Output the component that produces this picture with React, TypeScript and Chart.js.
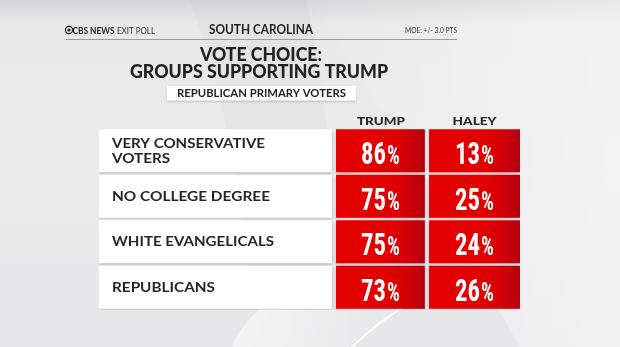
import React, { useEffect, useRef } from "react";
import { Chart, registerables } from "chart.js";

Chart.register(...registerables);

// ---- data ----
const GROUP_KEYS = ["Very conservative voters", "No college degree", "White evangelicals", "Republicans"];
const GROUP_LINES = [["VERY CONSERVATIVE", "VOTERS"], ["NO COLLEGE DEGREE"], ["WHITE EVANGELICALS"], ["REPUBLICANS"]];
const CANDIDATES = ["TRUMP", "HALEY"];
const TRUMP = [86, 75, 75, 73];
const HALEY = [13, 25, 24, 26];

const STATE = "SOUTH CAROLINA";
const TITLE_LINES = ["VOTE CHOICE:", "GROUPS SUPPORTING TRUMP"];
const SUBTITLE = "REPUBLICAN PRIMARY VOTERS";
const MOE = "MOE: +/- 3.0 PTS";

// ---- layout (column spans in x-scale units, 0..100) ----
const COL_LABEL: [number, number] = [0, 55.3];
const COL_A: [number, number] = [56.3, 77.4];
const COL_B: [number, number] = [78.4, 100];

const HEAD = '"Lato", "Open Sans", "DejaVu Sans", sans-serif';
const COND = '"Roboto Condensed", "DejaVu Sans Condensed", "Roboto", sans-serif';

function fitText(
  ctx: CanvasRenderingContext2D,
  s: string,
  x: number,
  y: number,
  font: string,
  color: string,
  align: "left" | "center" | "right",
  targetW?: number
) {
  ctx.save();
  ctx.font = font;
  ctx.fillStyle = color;
  ctx.textBaseline = "middle";
  ctx.textAlign = "left";
  const w = ctx.measureText(s).width;
  const sx = targetW ? targetW / w : 1;
  const dw = w * sx;
  let left = x;
  if (align === "center") left = x - dw / 2;
  else if (align === "right") left = x - dw;
  ctx.translate(left, y);
  ctx.scale(sx, 1);
  ctx.fillText(s, 0, 0);
  ctx.restore();
  return dw;
}

function redGradient(chart: any, span: [number, number]) {
  const xs = chart.scales && chart.scales.x;
  if (!xs || !chart.chartArea) return "#e10000";
  const x0 = xs.getPixelForValue(span[0]);
  const x1 = xs.getPixelForValue(span[1]);
  const g = chart.ctx.createLinearGradient(x0, 0, x1, 0);
  g.addColorStop(0, "#e40000");
  g.addColorStop(0.62, "#e00002");
  g.addColorStop(0.82, "#cf0008");
  g.addColorStop(1, "#b3000f");
  return g;
}

const backgroundPlugin = {
  id: "bg",
  beforeDraw(chart: any) {
    const ctx = chart.ctx as CanvasRenderingContext2D;
    const W = chart.width, H = chart.height;
    ctx.save();
    const g = ctx.createLinearGradient(0, 0, 0, H);
    g.addColorStop(0, "#d6d6d8");
    g.addColorStop(0.07, "#e9e9ea");
    g.addColorStop(0.5, "#ebebec");
    g.addColorStop(1, "#e6e6e8");
    ctx.fillStyle = g;
    ctx.fillRect(0, 0, W, H);
    // lighter right area
    const g2 = ctx.createLinearGradient(300, 0, 620, 0);
    g2.addColorStop(0, "rgba(255,255,255,0)");
    g2.addColorStop(1, "rgba(255,255,255,0.45)");
    ctx.fillStyle = g2;
    ctx.beginPath();
    ctx.moveTo(310, 0);
    ctx.quadraticCurveTo(420, 170, 520, 347);
    ctx.lineTo(620, 347);
    ctx.lineTo(620, 0);
    ctx.closePath();
    ctx.fill();
    // subtle swoosh band
    ctx.fillStyle = "rgba(120,120,125,0.04)";
    ctx.beginPath();
    ctx.moveTo(190, 0);
    ctx.quadraticCurveTo(240, 140, 250, 300);
    ctx.lineTo(330, 300);
    ctx.quadraticCurveTo(340, 150, 306, 0);
    ctx.closePath();
    ctx.fill();
    // bottom light swoosh
    const g3 = ctx.createLinearGradient(240, 0, 360, 0);
    g3.addColorStop(0, "rgba(255,255,255,0.55)");
    g3.addColorStop(1, "rgba(255,255,255,0.1)");
    ctx.fillStyle = g3;
    ctx.beginPath();
    ctx.moveTo(232, 347);
    ctx.quadraticCurveTo(242, 322, 262, 308);
    ctx.lineTo(402, 308);
    ctx.lineTo(352, 347);
    ctx.closePath();
    ctx.fill();
    ctx.strokeStyle = "rgba(255,255,255,0.95)";
    ctx.lineWidth = 2;
    ctx.beginPath();
    ctx.moveTo(352, 347);
    ctx.quadraticCurveTo(378, 322, 402, 308);
    ctx.stroke();
    ctx.restore();
  },
};

const shadowPlugin = {
  id: "shadow",
  beforeDatasetDraw(chart: any) {
    const ctx = chart.ctx;
    ctx.save();
    ctx.shadowColor = "rgba(0,0,0,0.22)";
    ctx.shadowBlur = 3;
    ctx.shadowOffsetY = 1.5;
  },
  afterDatasetDraw(chart: any) {
    chart.ctx.restore();
  },
};

function drawPct(ctx: CanvasRenderingContext2D, value: number, cx: number, cy: number) {
  const digits = String(value);
  ctx.save();
  ctx.fillStyle = "#ffffff";
  ctx.textBaseline = "alphabetic";
  ctx.textAlign = "left";
  const dFont = `bold 31px ${COND}`;
  const pFont = `bold 26px ${COND}`;
  const dsx = 0.8;
  const psx = 0.78;
  ctx.font = dFont;
  const dw = ctx.measureText(digits).width * dsx;
  ctx.font = pFont;
  const pw = ctx.measureText("%").width * psx;
  const total = dw + pw + 1;
  const base = cy + 13.5;
  const left = cx - total / 2;
  ctx.save();
  ctx.font = dFont;
  ctx.translate(left, base);
  ctx.scale(dsx, 1);
  ctx.fillText(digits, 0, 0);
  ctx.restore();
  ctx.save();
  ctx.font = pFont;
  ctx.translate(left + dw + 1, base);
  ctx.scale(psx, 1);
  ctx.fillText("%", 0, 0);
  ctx.restore();
  ctx.restore();
}

const textPlugin = {
  id: "texts",
  afterDraw(chart: any) {
    const ctx = chart.ctx as CanvasRenderingContext2D;
    const xs = chart.scales.x;
    // CBS eye
    ctx.save();
    ctx.strokeStyle = "#222";
    ctx.fillStyle = "#222";
    ctx.lineWidth = 1.2;
    ctx.beginPath();
    ctx.arc(69, 30, 3.6, 0, Math.PI * 2);
    ctx.stroke();
    ctx.beginPath();
    ctx.arc(69, 30, 1.6, 0, Math.PI * 2);
    ctx.fill();
    ctx.restore();
    fitText(ctx, "CBS NEWS", 72.5, 30.5, `bold 9.5px ${HEAD}`, "#222", "left", 42);
    fitText(ctx, "EXIT POLL", 117, 30.5, `9.5px ${HEAD}`, "#333", "left", 38);
    fitText(ctx, STATE, 261, 29.5, `bold 12.5px ${HEAD}`, "#222", "center", 104);
    fitText(ctx, MOE, 457, 30.5, `7.5px ${HEAD}`, "#333", "right", 52);
    ctx.save();
    ctx.strokeStyle = "#9c9c9e";
    ctx.lineWidth = 1;
    ctx.beginPath();
    ctx.moveTo(66, 39.5);
    ctx.lineTo(457, 39.5);
    ctx.stroke();
    ctx.restore();
    // title
    fitText(ctx, TITLE_LINES[0], 261, 55, `900 19px ${HEAD}`, "#222", "center", 122);
    fitText(ctx, TITLE_LINES[1], 259, 72, `900 19px ${HEAD}`, "#222", "center", 258);
    // subtitle box
    ctx.save();
    ctx.shadowColor = "rgba(0,0,0,0.15)";
    ctx.shadowBlur = 2;
    ctx.shadowOffsetY = 1;
    ctx.fillStyle = "#ffffff";
    ctx.fillRect(167, 86, 189, 14.5);
    ctx.restore();
    fitText(ctx, SUBTITLE, 261.5, 93.5, `bold 12px ${HEAD}`, "#222", "center", 169);
    // column headers
    const cA = (xs.getPixelForValue(COL_A[0]) + xs.getPixelForValue(COL_A[1])) / 2;
    const cB = (xs.getPixelForValue(COL_B[0]) + xs.getPixelForValue(COL_B[1])) / 2;
    fitText(ctx, CANDIDATES[0], cA + 0.5, 121, `900 12px ${HEAD}`, "#2a2a2a", "center", 48);
    fitText(ctx, CANDIDATES[1], cB, 121, `900 12px ${HEAD}`, "#2a2a2a", "center", 44);
    // rows
    const labelMeta = chart.getDatasetMeta(0);
    const aMeta = chart.getDatasetMeta(1);
    const bMeta = chart.getDatasetMeta(2);
    const labelWidths: Record<string, number> = {
      "VERY CONSERVATIVE": 153,
      VOTERS: 58,
      "NO COLLEGE DEGREE": 158,
      "WHITE EVANGELICALS": 162,
      REPUBLICANS: 103,
    };
    GROUP_LINES.forEach((lines, i) => {
      const el = labelMeta.data[i];
      const cy = el.y;
      const lx = xs.getPixelForValue(COL_LABEL[0]) + 13;
      const n = lines.length;
      lines.forEach((ln, j) => {
        const y = cy + (j - (n - 1) / 2) * 15 + 0.5;
        fitText(ctx, ln, lx, y, `bold 13px ${HEAD}`, "#262626", "left", labelWidths[ln]);
      });
      drawPct(ctx, TRUMP[i], cA, aMeta.data[i].y);
      drawPct(ctx, HALEY[i], cB, bMeta.data[i].y);
    });
  },
};

export default function App() {
  const ref = useRef<HTMLCanvasElement | null>(null);
  useEffect(() => {
    const canvas = ref.current;
    if (!canvas) return;
    const chart = new Chart(canvas, {
      type: "bar",
      data: {
        labels: GROUP_KEYS,
        datasets: [
          {
            label: "Group",
            data: GROUP_KEYS.map(() => COL_LABEL) as any,
            backgroundColor: "#ffffff",
            grouped: false,
            order: 3,
          } as any,
          {
            label: CANDIDATES[0],
            data: TRUMP.map(() => COL_A) as any,
            backgroundColor: (c: any) => redGradient(c.chart, COL_A),
            grouped: false,
            order: 2,
          } as any,
          {
            label: CANDIDATES[1],
            data: HALEY.map(() => COL_B) as any,
            backgroundColor: (c: any) => redGradient(c.chart, COL_B),
            grouped: false,
            order: 1,
          } as any,
        ],
      },
      options: {
        indexAxis: "y",
        responsive: false,
        animation: false,
        devicePixelRatio: 1,
        layout: { padding: { left: 99, right: 100, top: 128, bottom: 37 } },
        datasets: { bar: { categoryPercentage: 1, barPercentage: 0.945, borderWidth: 0 } },
        scales: {
          x: { type: "linear", min: 0, max: 100, display: false },
          y: { type: "category", display: false },
        },
        plugins: {
          legend: { display: false },
          title: { display: false },
          tooltip: { enabled: false },
        },
      } as any,
      plugins: [backgroundPlugin, shadowPlugin, textPlugin],
    });
    return () => chart.destroy();
  }, []);
  return (
    <div style={{ position: "fixed", left: 0, top: 0, width: 620, height: 347 }}>
      <canvas ref={ref} width={620} height={347} style={{ display: "block", width: 620, height: 347 }} />
    </div>
  );
}
